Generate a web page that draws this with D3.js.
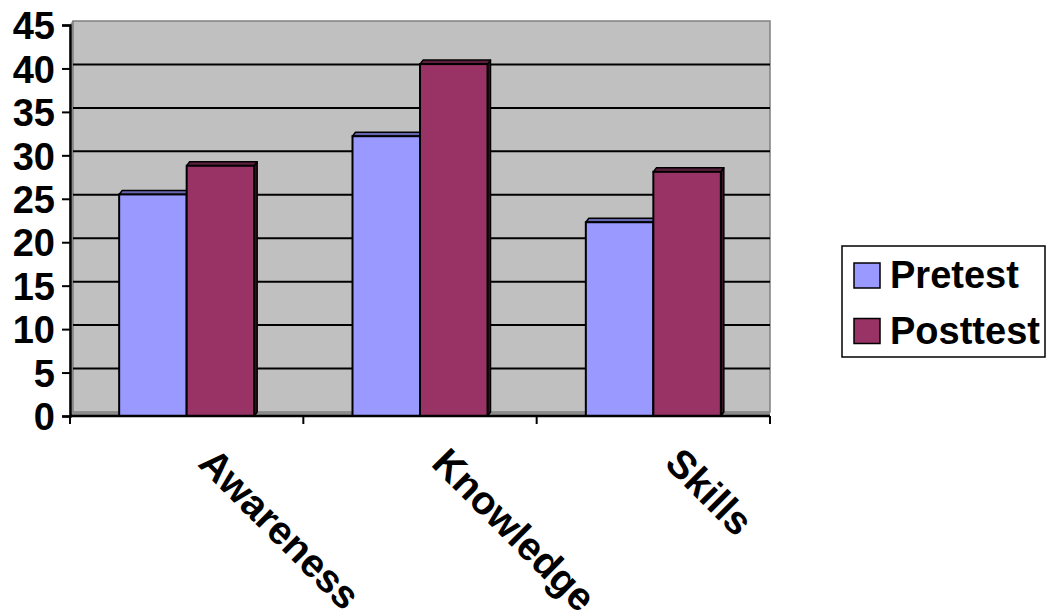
<!DOCTYPE html>
<html>
<head>
<meta charset="utf-8">
<script src="https://cdn.jsdelivr.net/npm/d3@7"></script>
<style>
  html, body { margin: 0; padding: 0; background: #fff; }
  svg { display: block; }
  text { font-family: "Liberation Sans", Arial, sans-serif; font-weight: bold; }
</style>
</head>
<body>
<svg id="chart" width="1047" height="615"></svg>
<script>
// Scores per skill area, before and after the programme
const categories = ["Awareness", "Knowledge", "Skills"];
const seriesNames = ["Pretest", "Posttest"];
const pretest = [25.5, 32.2, 22.3];
const posttest = [28.8, 40.5, 28.1];
const yTicks = [0, 5, 10, 15, 20, 25, 30, 35, 40, 45];

const seriesColors = ["#9999FF", "#993366"];
const capColors = ["#6666B0", "#5C1F3D"];
const sideColors = ["#4D4D80", "#3D1429"];

const svg = d3.select("#chart");

// Plot frame (front plane) and 3D depth offset of the back wall
const plotLeft = 70, plotRight = 770, plotBottom = 416, plotTop = 25;
const dx = 3, dy = -4;

const y = d3.scaleLinear().domain([0, 45]).range([plotBottom, plotTop]);
const x0 = d3.scaleBand().domain(categories).range([plotLeft, plotRight])
  .paddingInner(0.4214).paddingOuter(0.2107);
const x1 = d3.scaleBand().domain(seriesNames).range([0, x0.bandwidth()]);

// Side wall (left)
svg.append("path")
  .attr("d", `M${plotLeft},${y(0)} L${plotLeft},${y(45)} L${plotLeft + dx},${y(45) + dy} L${plotLeft + dx},${y(0) + dy} Z`)
  .attr("fill", "#C0C0C0").attr("stroke", "#808080").attr("stroke-width", 1);

// Back wall
svg.append("rect")
  .attr("x", plotLeft + dx).attr("y", y(45) + dy)
  .attr("width", plotRight - plotLeft - dx).attr("height", y(0) - y(45))
  .attr("fill", "#C0C0C0").attr("stroke", "#808080").attr("stroke-width", 1.5);

// Floor
svg.append("path")
  .attr("d", `M${plotLeft},${y(0)} L${plotLeft + dx},${y(0) + dy} L${plotRight},${y(0) + dy} L${plotRight},${y(0)} Z`)
  .attr("fill", "#8C8C8C");

// Gridlines on the back wall
svg.append("g").selectAll("line")
  .data(yTicks.filter(v => v > 0 && v < 45))
  .join("line")
  .attr("x1", plotLeft + dx).attr("x2", plotRight)
  .attr("y1", d => y(d) + dy).attr("y2", d => y(d) + dy)
  .attr("stroke", "#000").attr("stroke-width", 2);

// Bars with a shallow 3D cap and side
const data = categories.map((c, i) => ({ cat: c, values: [pretest[i], posttest[i]] }));
const groups = svg.append("g").selectAll("g")
  .data(data).join("g")
  .attr("transform", d => `translate(${x0(d.cat)},0)`);

groups.each(function (d) {
  const g = d3.select(this);
  d.values.forEach((v, si) => {
    const bx = x1(seriesNames[si]);
    const w = x1.bandwidth();
    const yt = y(v);
    g.append("path")
      .attr("d", `M${bx + w},${yt} L${bx + w + dx},${yt + dy} L${bx + w + dx},${y(0) + dy} L${bx + w},${y(0)} Z`)
      .attr("fill", sideColors[si]).attr("stroke", "#000").attr("stroke-width", 1.5).attr("stroke-linejoin", "round");
    g.append("path")
      .attr("d", `M${bx},${yt} L${bx + dx},${yt + dy} L${bx + w + dx},${yt + dy} L${bx + w},${yt} Z`)
      .attr("fill", capColors[si]).attr("stroke", "#000").attr("stroke-width", 1.5).attr("stroke-linejoin", "round");
    g.append("rect")
      .attr("x", bx).attr("y", yt).attr("width", w).attr("height", y(0) - yt)
      .attr("fill", seriesColors[si]).attr("stroke", "#000").attr("stroke-width", 2);
  });
});

// Value axis
const yAxis = d3.axisLeft(y).tickValues(yTicks).tickSize(8).tickPadding(7).tickFormat(d3.format("d"));
const gy = svg.append("g").attr("transform", `translate(${plotLeft},0)`).call(yAxis);
gy.select(".domain").attr("stroke", "#000").attr("stroke-width", 2.5);
gy.selectAll(".tick line").attr("stroke", "#000").attr("stroke-width", 2);
gy.selectAll(".tick text")
  .attr("fill", "#000").attr("font-size", 38).attr("dy", "0.36em")
  .style("font-family", "'Liberation Sans', Arial, sans-serif").style("font-weight", "bold");

// Category axis
const edges = [plotLeft, ...categories.map((c, i) => plotLeft + (i + 1) * x0.step())];
svg.append("line").attr("x1", plotLeft).attr("x2", plotRight).attr("y1", plotBottom).attr("y2", plotBottom)
  .attr("stroke", "#000").attr("stroke-width", 2.5);
svg.append("g").selectAll("line").data(edges).join("line")
  .attr("x1", d => d).attr("x2", d => d).attr("y1", plotBottom).attr("y2", plotBottom + 8)
  .attr("stroke", "#000").attr("stroke-width", 2);

svg.append("g").selectAll("text").data(categories).join("text")
  .attr("transform", d => `translate(${x0(d) + x0.bandwidth() / 2 + 10},${plotBottom + 49}) rotate(45)`)
  .attr("text-anchor", "start")
  .attr("font-size", 39.5)
  .attr("fill", "#000")
  .text(d => d);

// Legend
const legend = svg.append("g");
legend.append("rect")
  .attr("x", 842).attr("y", 246).attr("width", 203).attr("height", 111)
  .attr("fill", "#fff").attr("stroke", "#000").attr("stroke-width", 1.5);
seriesNames.forEach((name, i) => {
  const ly = 263 + i * 55.5;
  legend.append("rect")
    .attr("x", 854).attr("y", ly).attr("width", 26).attr("height", 25)
    .attr("fill", seriesColors[i]).attr("stroke", "#000").attr("stroke-width", 1.5);
  legend.append("text")
    .attr("x", 890).attr("y", ly + 25)
    .attr("font-size", 38).attr("fill", "#000")
    .text(name);
});
</script>
</body>
</html>
